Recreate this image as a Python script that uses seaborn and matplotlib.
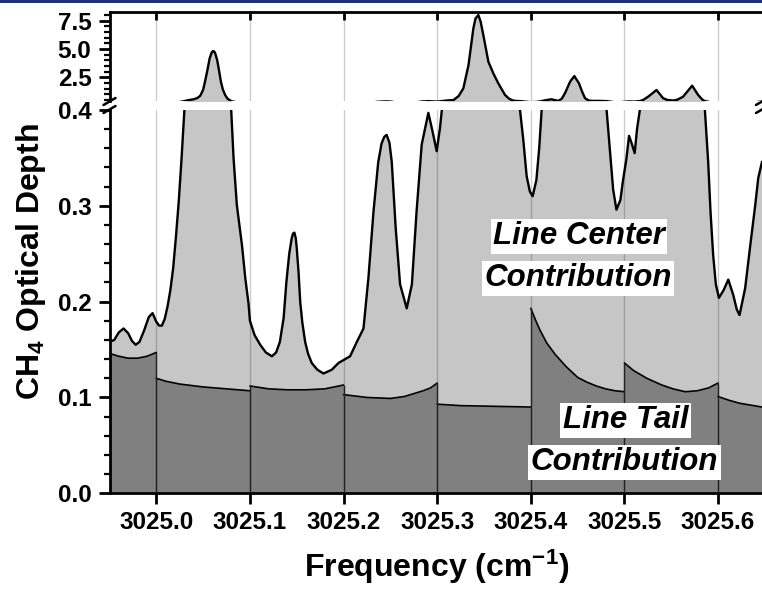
import matplotlib
matplotlib.use("Agg")
import matplotlib.pyplot as plt
from matplotlib.lines import Line2D
from matplotlib.patches import Rectangle
import seaborn as sns
import pandas as pd

# ---------------- data ----------------
total_freq = [
    3024.950, 3024.955, 3024.960, 3024.965, 3024.970, 3024.974, 3024.978, 3024.982,
    3024.987, 3024.992, 3024.996, 3025.000, 3025.003, 3025.006, 3025.009, 3025.012,
    3025.015, 3025.018, 3025.021, 3025.024, 3025.027, 3025.030,
    3025.034, 3025.040, 3025.044, 3025.047, 3025.050, 3025.052, 3025.0545, 3025.057,
    3025.059, 3025.060, 3025.061, 3025.062, 3025.063, 3025.065, 3025.067, 3025.069,
    3025.071, 3025.0735, 3025.076, 3025.079, 3025.080,
    3025.0825, 3025.086, 3025.0915, 3025.095, 3025.0985, 3025.100, 3025.105, 3025.111,
    3025.117, 3025.1235, 3025.128, 3025.132, 3025.136, 3025.139, 3025.142, 3025.1446,
    3025.146, 3025.1475, 3025.149, 3025.150, 3025.152, 3025.1537, 3025.156, 3025.159,
    3025.162, 3025.166,
    3025.172, 3025.1786, 3025.1875, 3025.1946, 3025.200, 3025.207, 3025.2142, 3025.2213,
    3025.2266, 3025.232, 3025.237, 3025.2406, 3025.2435, 3025.246, 3025.249, 3025.2515,
    3025.2557, 3025.2604,
    3025.2675, 3025.273, 3025.278, 3025.2835, 3025.2906, 3025.295, 3025.2995, 3025.303,
    3025.305,
    3025.310, 3025.3175, 3025.323, 3025.328, 3025.3335, 3025.3387, 3025.341, 3025.344,
    3025.3465, 3025.3493, 3025.3547, 3025.360, 3025.3653, 3025.3725, 3025.377, 3025.381,
    3025.385, 3025.3885,
    3025.392, 3025.3956, 3025.399, 3025.402, 3025.406, 3025.409, 3025.4116,
    3025.416, 3025.422, 3025.4293, 3025.433, 3025.4365, 3025.442, 3025.4465, 3025.4515,
    3025.455, 3025.458, 3025.462, 3025.465, 3025.473, 3025.481,
    3025.4845, 3025.488, 3025.4915, 3025.4957, 3025.4986, 3025.502, 3025.505, 3025.5075,
    3025.511, 3025.5135, 3025.5165,
    3025.520, 3025.5254, 3025.5343, 3025.5414, 3025.546, 3025.552, 3025.5565, 3025.5627,
    3025.5724, 3025.5788, 3025.583, 3025.586,
    3025.5895, 3025.592, 3025.5948, 3025.5977, 3025.601, 3025.606, 3025.611, 3025.6163,
    3025.620, 3025.623, 3025.629, 3025.6345, 3025.6398, 3025.643, 3025.647,
]
total_depth = [
    0.158, 0.160, 0.168, 0.172, 0.167, 0.159, 0.155, 0.158,
    0.170, 0.184, 0.188, 0.179, 0.175, 0.175, 0.182, 0.195,
    0.212, 0.235, 0.268, 0.305, 0.350, 0.400,
    0.48, 0.56, 0.68, 0.875, 1.40, 2.11, 3.10, 4.18,
    4.65, 4.78, 4.82, 4.76, 4.60, 4.03, 3.10, 2.11,
    1.45, 0.94, 0.62, 0.45, 0.40,
    0.350, 0.301, 0.259, 0.225, 0.198, 0.180, 0.165, 0.155,
    0.147, 0.143, 0.147, 0.158, 0.183, 0.221, 0.250, 0.266,
    0.271, 0.272, 0.266, 0.256, 0.230, 0.200, 0.178, 0.158,
    0.146, 0.136,
    0.129, 0.125, 0.129, 0.136, 0.139, 0.143, 0.158, 0.172,
    0.225, 0.294, 0.345, 0.365, 0.372, 0.374, 0.366, 0.346,
    0.277, 0.218,
    0.193, 0.218, 0.294, 0.364, 0.397, 0.378, 0.357, 0.381,
    0.400,
    0.45, 0.495, 0.85, 1.53, 3.59, 6.83, 7.70, 8.00,
    7.40, 6.24, 3.88, 2.85, 1.97, 0.94, 0.60, 0.45,
    0.41, 0.40,
    0.369, 0.331, 0.315, 0.310, 0.327, 0.360, 0.400,
    0.48, 0.56, 0.42, 0.60, 1.09, 2.11, 2.61, 1.97,
    1.20, 0.65, 0.45, 0.42, 0.42, 0.40,
    0.359, 0.317, 0.296, 0.306, 0.327, 0.348, 0.373, 0.366,
    0.355, 0.380, 0.400,
    0.50, 0.79, 1.38, 0.65, 0.50, 0.45, 0.52, 0.79,
    1.76, 0.94, 0.55, 0.40,
    0.346, 0.294, 0.249, 0.218, 0.204, 0.212, 0.223, 0.207,
    0.192, 0.186, 0.214, 0.259, 0.301, 0.329, 0.346,
]

# line-tail contribution, one piece per 0.1 cm-1 window
tail_segment = (["A"] * 6 + ["B"] * 6 + ["C"] * 6 + ["D"] * 8 + ["E"] * 5
                + ["F"] * 12 + ["G"] * 9 + ["H"] * 5)
tail_freq = [
    3024.95, 3024.96, 3024.97, 3024.98, 3024.99, 3025.00,
    3025.00, 3025.01, 3025.025, 3025.05, 3025.075, 3025.10,
    3025.10, 3025.12, 3025.14, 3025.16, 3025.18, 3025.20,
    3025.20, 3025.225, 3025.25, 3025.265, 3025.275, 3025.285, 3025.293, 3025.30,
    3025.30, 3025.325, 3025.35, 3025.375, 3025.40,
    3025.40, 3025.405, 3025.41, 3025.417, 3025.426, 3025.438, 3025.45, 3025.46,
    3025.47, 3025.48, 3025.49, 3025.50,
    3025.50, 3025.51, 3025.524, 3025.54, 3025.552, 3025.565, 3025.578, 3025.59, 3025.60,
    3025.60, 3025.612, 3025.623, 3025.635, 3025.647,
]
tail_depth = [
    0.146, 0.143, 0.141, 0.141, 0.143, 0.147,
    0.120, 0.117, 0.114, 0.111, 0.109, 0.107,
    0.112, 0.109, 0.108, 0.108, 0.109, 0.113,
    0.103, 0.100, 0.099, 0.101, 0.104, 0.107, 0.110, 0.115,
    0.093, 0.0915, 0.091, 0.0905, 0.090,
    0.193, 0.181, 0.170, 0.157, 0.145, 0.132, 0.121, 0.116,
    0.112, 0.109, 0.107, 0.106,
    0.136, 0.128, 0.120, 0.113, 0.109, 0.106, 0.107, 0.110, 0.115,
    0.101, 0.097, 0.094, 0.092, 0.090,
]

x_ticks = [3025.0, 3025.1, 3025.2, 3025.3, 3025.4, 3025.5, 3025.6]
x_tick_labels = ["3025.0", "3025.1", "3025.2", "3025.3", "3025.4", "3025.5", "3025.6"]
y_ticks_low = [0.0, 0.1, 0.2, 0.3, 0.4]
y_tick_labels_low = ["0.0", "0.1", "0.2", "0.3", "0.4"]
y_ticks_high = [2.5, 5.0, 7.5]
y_tick_labels_high = ["2.5", "5.0", "7.5"]

# ---------------- style ----------------
sns.set_theme(style="ticks")
plt.rcParams["font.family"] = ["Liberation Sans", "DejaVu Sans"]
plt.rcParams["font.weight"] = "bold"
plt.rcParams["text.color"] = "black"
plt.rcParams["axes.labelcolor"] = "black"
plt.rcParams["xtick.color"] = "black"
plt.rcParams["ytick.color"] = "black"
plt.rcParams["xtick.labelcolor"] = "black"
plt.rcParams["ytick.labelcolor"] = "black"
plt.rcParams["mathtext.fontset"] = "custom"
plt.rcParams["mathtext.rm"] = "Liberation Sans:bold"
plt.rcParams["mathtext.bf"] = "Liberation Sans:bold"
plt.rcParams["mathtext.it"] = "Liberation Sans:bold:italic"
plt.rcParams["mathtext.default"] = "bf"

LIGHT = "#c6c6c6"
DARK = "#808080"
W, H = 762, 590

fig = plt.figure(figsize=(W / 100, H / 100), dpi=100)
fig.patch.set_facecolor("white")

left_px, right_px = 109.5, 762.0
ax_b = fig.add_axes([left_px / W, 1 - 493.3 / H, (right_px - left_px) / W, (493.3 - 110.0) / H])
ax_t = fig.add_axes([left_px / W, 1 - 101.1 / H, (right_px - left_px) / W, (101.1 - 11.5) / H])

tail_df = pd.DataFrame({"freq": tail_freq, "depth": tail_depth, "seg": tail_segment})

for ax in (ax_b, ax_t):
    ax.set_facecolor("white")
    ax.fill_between(total_freq, 0, total_depth, color=LIGHT, lw=0, zorder=1)
    for seg, g in tail_df.groupby("seg"):
        ax.fill_between(g["freq"], 0, g["depth"], color=DARK, lw=0, zorder=2)
        sns.lineplot(x=g["freq"].tolist(), y=g["depth"].tolist(), ax=ax, color="black",
                     linewidth=1.2, estimator=None, sort=False, zorder=3)
    # dark edges of tail pieces at window boundaries
    bounds = tail_df.groupby("freq")["depth"].max()
    dup = tail_df["freq"].value_counts()
    for f in dup[dup > 1].index:
        ax.vlines(f, 0, bounds[f], color="#2a2a2a", lw=1.0, zorder=3)
    sns.lineplot(x=total_freq, y=total_depth, ax=ax, color="black", linewidth=1.7,
                 estimator=None, sort=False, zorder=4, solid_joinstyle="round",
                 solid_capstyle="round")
    for t in x_ticks:
        ax.axvline(t, color="black", alpha=0.2, lw=1.0, zorder=5)
    ax.set_xlim(3024.95, 3025.647)
    ax.set_xlabel("")
    ax.set_ylabel("")

# bottom panel
ax_b.set_ylim(0.0, 0.4)
ax_b.set_xticks(x_ticks)
ax_b.set_xticklabels(x_tick_labels, fontsize=17.5, fontweight="bold", color="black")
ax_b.set_yticks(y_ticks_low)
ax_b.set_yticklabels(y_tick_labels_low, fontsize=17.5, fontweight="bold", color="black")
ax_b.set_yticks([i * 0.02 for i in range(21)], minor=True)
ax_b.tick_params(axis="both", which="major", direction="out", length=8, width=2, pad=5, color="black")
ax_b.tick_params(axis="y", which="minor", direction="out", length=4.5, width=1.6, color="black")
ax_b.tick_params(axis="x", which="minor", bottom=False)
for s in ("top", "right"):
    ax_b.spines[s].set_visible(False)
for s in ("left", "bottom"):
    ax_b.spines[s].set_linewidth(2)
    ax_b.spines[s].set_color("black")

# top panel
ax_t.set_ylim(0.4, 8.31)
ax_t.set_xticks(x_ticks)
ax_t.set_yticks(y_ticks_high)
ax_t.set_yticklabels(y_tick_labels_high, fontsize=17.5, fontweight="bold", color="black")
ax_t.set_yticks([0.5 * i for i in range(1, 17)], minor=True)
ax_t.tick_params(axis="x", which="major", top=True, bottom=False, labeltop=False,
                 labelbottom=False, direction="in", length=6, width=2, color="black")
ax_t.tick_params(axis="y", which="major", direction="out", length=8, width=2, pad=5, color="black")
ax_t.tick_params(axis="y", which="minor", direction="out", length=4.5, width=1.6, color="black")
for s in ("bottom", "right"):
    ax_t.spines[s].set_visible(False)
for s in ("left", "top"):
    ax_t.spines[s].set_linewidth(2)
    ax_t.spines[s].set_color("black")

# axis break marks
def px2fig(x, y):
    return x / W, 1 - y / H

for cx in (left_px, 762.0):
    for cy in (101.5, 109.5):
        x0, y0 = px2fig(cx - 6, cy + 3.5)
        x1, y1 = px2fig(cx + 6, cy - 3.5)
        fig.add_artist(Line2D([x0, x1], [y0, y1], transform=fig.transFigure,
                              color="black", lw=1.8, clip_on=False))

# annotations
box = dict(boxstyle="square,pad=0.08", facecolor="white", edgecolor="none")
ann = dict(fontsize=22.5, fontweight="bold", fontstyle="italic", ha="center", va="center",
           bbox=box, zorder=10, color="black")
ax_b.text(*px2fig(579, 236.5), "Line Center", transform=fig.transFigure, **ann)
ax_b.text(*px2fig(578, 278), "Contribution", transform=fig.transFigure, **ann)
ax_b.text(*px2fig(625.5, 420.5), "Line Tail", transform=fig.transFigure, **ann)
ax_b.text(*px2fig(624.5, 462.5), "Contribution", transform=fig.transFigure, **ann)

# axis titles
fig.text(*px2fig(437, 577), r"Frequency (cm$^{-1}$)", fontsize=23, fontweight="bold",
         ha="center", va="baseline", color="black")
fig.text(*px2fig(31, 262), r"CH$_4$ Optical Depth", fontsize=23, fontweight="bold",
         ha="center", va="center", rotation=90, color="black")

# header bar
fig.add_artist(Rectangle((0, 1 - 3 / H), 1, 3 / H, transform=fig.transFigure,
                         facecolor="#1a3185", edgecolor="none"))

fig.savefig("out.png", dpi=100)
